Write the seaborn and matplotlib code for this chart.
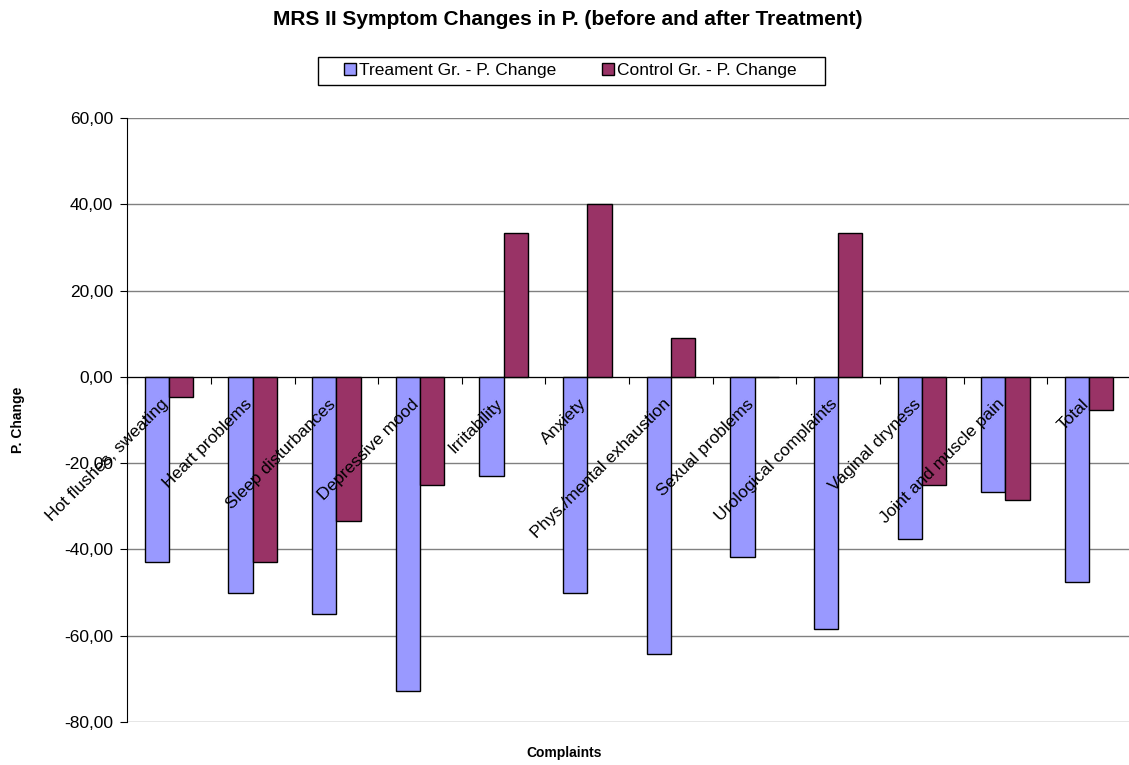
import numpy as np
import pandas as pd
import seaborn as sns
import matplotlib.pyplot as plt
from matplotlib.patches import Rectangle
from matplotlib.ticker import FuncFormatter

complaints = ['Hot flushes, sweating', 'Heart problems', 'Sleep disturbances',
              'Depressive mood', 'Irritability', 'Anxiety', 'Phys./mental exhaustion',
              'Sexual problems', 'Urological complaints', 'Vaginal dryness',
              'Joint and muscle pain', 'Total']
treatment = [-42.86, -50.00, -55.00, -72.73, -23.08, -50.00, -64.29,
             -41.67, -58.33, -37.50, -26.67, -47.50]
control = [-4.76, -42.86, -33.33, -25.00, 33.33, 40.00, 9.09,
           0.00, 33.33, -25.00, -28.57, -7.69]
series = ['Treament Gr. - P. Change', 'Control Gr. - P. Change']
colors = ['#9999FF', '#993366']

df = pd.DataFrame({
    'Complaint': complaints * 2,
    'Value': treatment + control,
    'Series': [series[0]] * len(complaints) + [series[1]] * len(complaints),
})

sns.set_style('white')
plt.rcParams['font.family'] = ['Liberation Sans', 'DejaVu Sans']
plt.rcParams['text.color'] = 'black'
plt.rcParams['axes.labelcolor'] = 'black'
plt.rcParams['xtick.color'] = 'black'
plt.rcParams['ytick.color'] = 'black'

fig = plt.figure(figsize=(11.29, 7.65), dpi=100)
ax = fig.add_axes([0.1127, 0.0562, 0.889, 0.7896])

sns.barplot(data=df, x='Complaint', y='Value', hue='Series', palette=colors,
            saturation=1, width=0.58, edgecolor='black', linewidth=1, ax=ax)

ax.set_ylim(-80, 60)
ax.set_yticks(np.arange(-80, 61, 20))
ax.yaxis.set_major_formatter(FuncFormatter(lambda v, p: f'{v:.2f}'.replace('.', ',')))
ax.yaxis.grid(True, color='#808080', linewidth=1)
ax.set_axisbelow(True)
ax.tick_params(axis='y', labelsize=12.5, length=5, direction='out', left=True,
               color='black', labelcolor='black', pad=5)

ax.set_xlim(-0.5, len(complaints) - 0.5)
ax.set_xticks(np.arange(-0.5, len(complaints), 1.0))
ax.set_xticklabels([])
ax.tick_params(axis='x', length=5, direction='out', bottom=True, color='black')

for s in ['top', 'right']:
    ax.spines[s].set_visible(False)
ax.spines['left'].set_color('black')
ax.spines['bottom'].set_position(('data', 0))
ax.spines['bottom'].set_color('black')

# category names sit just under the zero line, rotated like Excel does
for i, name in enumerate(complaints):
    ax.text(i - 0.1, -4.5, name, rotation=45, ha='right', va='top',
            rotation_mode='anchor', fontsize=12.5, color='black')

ax.set_xlabel('')
ax.set_ylabel('')
fig.text(0.016, 0.451, 'P. Change', rotation=90, ha='center', va='center',
         fontsize=10, fontweight='bold')
fig.text(0.5, 0.006, 'Complaints', ha='center', va='bottom', fontsize=10, fontweight='bold')
fig.text(0.503, 0.975, 'MRS II Symptom Changes in P. (before and after Treatment)',
         ha='center', va='center', fontsize=15, fontweight='bold')

leg = ax.legend(loc='center', bbox_to_anchor=(0.505, 0.908), bbox_transform=fig.transFigure,
                ncol=2, frameon=False, fontsize=12.5,
                handlelength=0.7, handleheight=0.7, handletextpad=0.2, columnspacing=2.6,
                borderpad=0.35)
for h in leg.legend_handles:
    h.set_edgecolor('black')
for t in leg.get_texts():
    t.set_color('black')
# legend box wider than matplotlib's padding allows
fig.patches.append(Rectangle((318 / 1129, 1 - 85 / 765), 507 / 1129, 28 / 765,
                             transform=fig.transFigure, fill=False,
                             edgecolor='black', linewidth=1))

fig.savefig('out.png', dpi=100)
